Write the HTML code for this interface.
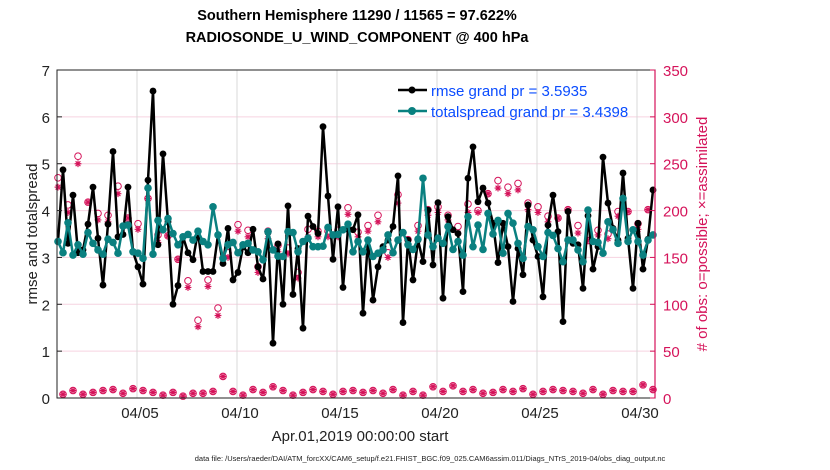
<!DOCTYPE html>
<html><head><meta charset="utf-8"><style>
body{margin:0;background:#fff;}
svg{display:block;font-family:"Liberation Sans",Arial,sans-serif;}
</style></head><body>
<svg id="chart" width="830" height="470" viewBox="0 0 830 470">
<rect width="830" height="470" fill="#fff"/>
<text x="357" y="20" text-anchor="middle" font-size="14.5" font-weight="bold">Southern Hemisphere 11290 / 11565 = 97.622%</text>
<text x="357" y="42" text-anchor="middle" font-size="14.5" font-weight="bold">RADIOSONDE_U_WIND_COMPONENT @ 400 hPa</text>
<g id="grid"></g>
<g id="marks"></g>
<g id="axes"></g>
<text x="360" y="441" text-anchor="middle" font-size="15" fill="#222">Apr.01,2019 00:00:00 start</text>
<text x="430" y="461" text-anchor="middle" font-size="7.5" fill="#222">data file: /Users/raeder/DAI/ATM_forcXX/CAM6_setup/f.e21.FHIST_BGC.f09_025.CAM6assim.011/Diags_NTrS_2019-04/obs_diag_output.nc</text>
<text transform="translate(37,234) rotate(-90)" text-anchor="middle" font-size="15" fill="#222">rmse and totalspread</text>
<text transform="translate(707,234) rotate(-90)" text-anchor="middle" font-size="15" fill="#d5135a"># of obs: o=possible; ×=assimilated</text>
<g>
<line x1="398" y1="90" x2="427" y2="90" stroke="#000" stroke-width="2.5"/>
<circle cx="412" cy="90" r="3.5" fill="#000"/>
<text x="431" y="96" font-size="15" fill="#0a4cff">rmse grand pr = 3.5935</text>
<line x1="398" y1="111" x2="427" y2="111" stroke="#0a8080" stroke-width="2.5"/>
<circle cx="412" cy="111" r="4" fill="#0a8080"/>
<text x="431" y="117" font-size="15" fill="#0a4cff">totalspread grand pr = 3.4398</text>
</g>
</svg>
<script>
const rmse=[3.34,4.87,3.30,4.33,3.10,3.16,3.71,4.50,3.41,2.41,3.71,5.26,3.44,3.49,4.50,3.12,2.80,2.43,4.65,6.55,3.27,5.21,3.76,2.00,2.40,3.44,3.10,2.95,3.55,2.70,2.70,
2.70,3.48,2.87,3.62,2.52,2.68,3.23,3.10,3.60,2.80,2.54,3.53,1.17,3.29,2.00,4.10,2.21,3.19,1.49,3.88,3.66,3.51,5.79,4.31,2.96,4.08,2.36,3.60,3.59,3.91,
1.81,3.37,2.09,2.80,3.23,3.37,3.66,4.74,1.61,3.37,2.52,3.37,2.91,4.01,2.84,4.17,2.13,3.87,3.59,3.51,2.27,4.69,5.36,4.19,4.48,4.16,3.73,2.89,3.73,3.23,
2.06,3.19,2.63,4.12,3.37,3.02,2.16,3.69,4.33,3.55,1.63,3.98,3.30,3.27,2.34,3.89,2.75,3.23,5.14,4.16,3.62,3.37,4.80,3.41,2.34,3.73,2.75,3.39,4.44];
const spread=[3.34,3.10,3.74,3.05,3.27,3.07,3.53,3.30,3.16,3.07,3.39,3.32,3.09,3.67,3.69,3.12,3.09,2.98,4.48,3.07,3.79,3.59,3.83,3.51,3.27,3.44,3.49,3.37,3.56,3.34,3.27,
4.08,3.48,2.98,3.27,3.32,3.10,3.27,3.30,3.16,3.12,2.95,3.55,3.16,3.03,3.02,3.55,3.53,3.12,3.34,3.41,3.23,3.23,3.24,3.64,3.48,3.49,3.59,3.71,3.12,3.34,
3.12,3.37,3.02,3.09,3.16,3.48,3.10,3.37,3.53,3.27,3.17,3.39,4.69,3.48,3.23,3.41,3.30,3.66,3.17,3.34,3.05,3.87,3.23,3.69,3.17,3.94,3.50,3.79,3.09,3.94,
3.73,3.30,2.98,3.66,3.59,3.23,3.02,3.53,3.47,3.19,2.91,3.37,3.37,3.16,2.91,4.01,3.34,3.32,3.09,3.76,3.59,3.30,4.26,3.34,3.59,3.34,3.05,3.37,3.48];
const obsPossible=[235,4,206,8,258,4,209,6,197,8,195,9,226,5,192,10,186,8,213,6,174,3,173,6,148,2,125,5,83,5,126,
7,96,23,155,7,185,3,179,9,140,6,178,12,163,8,160,3,134,6,180,9,178,7,178,4,179,7,203,8,177,
6,184,8,195,5,155,9,217,3,169,7,184,3,201,12,204,7,195,13,183,7,207,9,200,5,218,6,232,9,225,
7,229,10,208,4,204,7,194,9,192,8,201,7,184,5,168,9,179,4,175,8,199,7,199,7,186,14,201,9];
const obsAssim=[225,4,198,8,250,4,209,6,190,8,188,9,218,5,192,10,180,8,213,6,166,3,173,6,148,2,118,5,76,5,119,
7,88,23,150,7,178,3,172,9,134,6,170,12,156,8,154,3,128,6,172,9,172,7,172,4,172,7,196,8,172,
6,178,8,188,5,150,9,208,3,165,7,178,3,195,12,198,7,190,13,176,7,198,9,198,5,218,6,224,9,218,
7,222,10,201,4,198,7,188,9,192,8,201,7,176,5,168,9,174,4,170,8,194,7,199,7,180,14,201,9];
const tickDays=[5,10,15,20,25,30];
const tickLabels=["04/05","04/10","04/15","04/20","04/25","04/30"];
const leftTicks=[0,1,2,3,4,5,6,7];
const rightTicks=[0,50,100,150,200,250,300,350];
const firstDay=1.05, stepDay=0.25;

const NS="http://www.w3.org/2000/svg";
const L=57,R=655,T=70,B=398;
const xs=d=>L+(d-1)*20;
const yl=v=>B-v*(B-T)/7;
const yr=v=>B-v*(B-T)/350;
function mk(tag,attrs,parent){const e=document.createElementNS(NS,tag);for(const k in attrs)e.setAttribute(k,attrs[k]);parent.appendChild(e);return e;}
const grid=document.getElementById('grid'),marks=document.getElementById('marks'),axes=document.getElementById('axes');
leftTicks.forEach(v=>{if(v>0&&v<7){const g=mk('line',{x1:L,x2:R,y1:yl(v),y2:yl(v),stroke:'#f6d3e0','stroke-width':1},grid);

}});
tickDays.forEach((d,i)=>{const g=mk('line',{x1:xs(d),x2:xs(d),y1:T,y2:B,stroke:'#d8d8d8','stroke-width':1},grid);


const t=mk('text',{x:xs(d)+3,y:418,'text-anchor':'middle','font-size':15,fill:'#222'},axes);t.textContent=tickLabels[i];

});
const tx=k=>xs(firstDay+k*stepDay);
obsPossible.forEach((v,k)=>{const c=mk('circle',{cx:tx(k),cy:yr(v),r:3.3,fill:'none',stroke:'#d5135a','stroke-width':1},marks);

});
obsAssim.forEach((v,k)=>{const x=tx(k),y=yr(v),s=3.4,d=2.4;
const g=mk('path',{d:`M${x-s},${y}H${x+s}M${x},${y-s}V${y+s}M${x-d},${y-d}L${x+d},${y+d}M${x-d},${y+d}L${x+d},${y-d}`,stroke:'#d5135a','stroke-width':1.2,fill:'none'},marks);

});
function series(vals,color,r,name){
const p=mk('polyline',{points:vals.map((v,k)=>tx(k)+','+yl(v)).join(' '),fill:'none',stroke:color,'stroke-width':2.5,'stroke-linejoin':'round'},marks);


vals.forEach((v,k)=>{const c=mk('circle',{cx:tx(k),cy:yl(v),r:r,fill:color},marks);

});}
series(rmse,'#000',3.4,'rmse');
series(spread,'#0a8080',3.8,'totalspread');
const fr=mk('rect',{x:L,y:T,width:R-L,height:B-T,fill:'none',stroke:'#222','stroke-width':1},axes);


const ra=mk('line',{x1:R,x2:R,y1:T,y2:B,stroke:'#d5135a','stroke-width':1.2},axes);


leftTicks.forEach(v=>{const t=mk('text',{x:50,y:yl(v)+6,'text-anchor':'end','font-size':15,fill:'#222'},axes);t.textContent=v;


mk('line',{x1:L,x2:L+5,y1:yl(v),y2:yl(v),stroke:'#222'},axes);});
rightTicks.forEach(v=>{const t=mk('text',{x:663,y:yr(v)+6,'font-size':15,fill:'#d5135a'},axes);t.textContent=v;


mk('line',{x1:R-5,x2:R,y1:yr(v),y2:yr(v),stroke:'#d5135a'},axes);});
</script>
</body></html>
